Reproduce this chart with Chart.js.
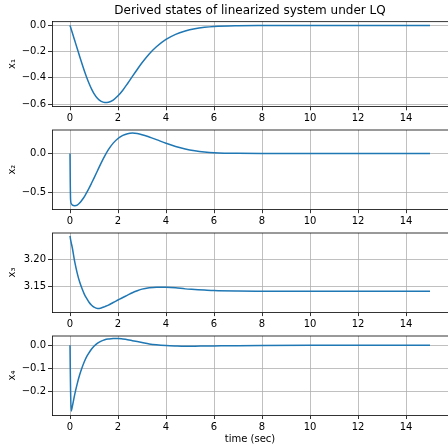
<!DOCTYPE html>
<html>
<head>
<meta charset="utf-8">
<script src="https://cdn.jsdelivr.net/npm/chart.js@4.4.1/dist/chart.umd.min.js"></script>
<style>
  body { margin: 0; background: #fff; }
  #wrap { position: relative; width: 448px; height: 445px; overflow: hidden; }
  canvas { position: absolute; left: 0; }
</style>
</head>
<body>
<div id="wrap">
  <canvas id="c1"></canvas>
  <canvas id="c2"></canvas>
  <canvas id="c3"></canvas>
  <canvas id="c4"></canvas>
</div>
<script>
// sample times (sec)
const times = [0, 0.01, 0.025, 0.05, 0.1, 0.2, 0.3, 0.4, 0.5, 0.6, 0.7, 0.8, 0.9, 1.0,
  1.15, 1.3, 1.45, 1.6, 1.8, 2.0, 2.2, 2.4, 2.6, 2.8, 3.0, 3.3, 3.6, 4.0, 4.4, 4.8,
  5.2, 5.6, 6.0, 7.0, 8.0, 10.0, 12.0, 15.0];

const x1Vals = [0, -0.006, -0.0145, -0.029, -0.058, -0.117, -0.176, -0.235, -0.293, -0.348, -0.399, -0.445, -0.486, -0.52,
  -0.558, -0.58, -0.588, -0.586, -0.569, -0.537, -0.494, -0.443, -0.389, -0.336, -0.285, -0.218, -0.163, -0.107, -0.068, -0.043,
  -0.026, -0.015, -0.008, -0.002, -0.0005, 0, 0, 0];

const x2Vals = [0, -0.35, -0.6, -0.645, -0.665, -0.672, -0.665, -0.639, -0.6, -0.555, -0.5, -0.443, -0.381, -0.317,
  -0.219, -0.121, -0.031, 0.049, 0.133, 0.193, 0.232, 0.255, 0.262, 0.256, 0.242, 0.212, 0.178, 0.131, 0.09, 0.058,
  0.035, 0.019, 0.009, 0.001, 0, 0, 0, 0];

const x3Vals = [3.2432, 3.2405, 3.2365, 3.231, 3.2205, 3.1949, 3.175, 3.159, 3.1466, 3.136, 3.128, 3.121, 3.116, 3.1125,
  3.110, 3.111, 3.1135, 3.1162, 3.121, 3.1256, 3.1302, 3.1345, 3.139, 3.1425, 3.1455, 3.148, 3.1492, 3.1491, 3.1482, 3.146,
  3.1449, 3.1438, 3.1428, 3.1419, 3.1417, 3.1416, 3.1416, 3.1416];

const x4Vals = [0, -0.09, -0.2, -0.283, -0.262, -0.21, -0.166, -0.128, -0.097, -0.07, -0.048, -0.031, -0.016, -0.004,
  0.009, 0.018, 0.024, 0.027, 0.0293, 0.0293, 0.027, 0.024, 0.02, 0.016, 0.012, 0.006, 0.002, -0.0013, -0.003, -0.004,
  -0.0038, -0.0032, -0.0027, -0.0015, -0.0008, -0.0002, 0, 0];

const xTicks = [0, 2, 4, 6, 8, 10, 12, 14];
const y1Ticks = [0, -0.2, -0.4, -0.6];
const y2Ticks = [0, -0.5];
const y3Ticks = [3.20, 3.15];
const y4Ticks = [0, -0.1, -0.2];
const yLabels = ['x\u2081', 'x\u2082', 'x\u2083', 'x\u2084'];

const FONT = 'DejaVu Sans';

// top spine like matplotlib (right one sits off the canvas)
const boxPlugin = {
  id: 'box',
  afterDraw(chart) {
    const { ctx, chartArea: a } = chart;
    ctx.save();
    ctx.strokeStyle = '#000';
    ctx.lineWidth = 0.8;
    ctx.beginPath();
    ctx.moveTo(a.left, a.top);
    ctx.lineTo(448, a.top);
    ctx.stroke();
    ctx.restore();
  }
};

function fmt(v, d) {
  return v.toFixed(d).replace('-', '\u2212');
}

function makeChart(id, opts) {
  const cv = document.getElementById(id);
  cv.width = 448;
  cv.height = opts.h;
  cv.style.top = opts.top + 'px';
  const xH = opts.xTitle ? 30 : 22;
  const padTop = opts.plotTop - opts.top - (opts.title ? 21.6 : 0);
  const padBottom = opts.h - xH - (opts.plotTop + 84.7 - opts.top);

  return new Chart(cv, {
    type: 'line',
    data: {
      datasets: [{
        data: times.map((t, i) => ({ x: t, y: opts.vals[i] })),
        borderColor: '#1f77b4',
        borderWidth: 1.5,
        pointRadius: 0,
        cubicInterpolationMode: 'monotone',
        fill: false
      }]
    },
    options: {
      responsive: false,
      animation: false,
      devicePixelRatio: 1,
      layout: { padding: { top: padTop, bottom: padBottom, left: 0, right: 0 } },
      plugins: {
        legend: { display: false },
        tooltip: { enabled: false },
        title: {
          display: !!opts.title,
          text: opts.title || '',
          fullSize: false,
          color: '#000',
          font: { family: FONT, size: 12, weight: 'normal' },
          padding: { top: 4, bottom: 3.2 }
        }
      },
      scales: {
        x: {
          type: 'linear',
          min: -0.75,
          max: 15.75,
          afterBuildTicks: s => { s.ticks = xTicks.map(v => ({ value: v })); },
          afterFit: s => { s.height = xH; },
          ticks: {
            color: '#000',
            padding: 2.5,
            maxRotation: 0,
            font: { family: FONT, size: 10 },
            callback: v => String(v)
          },
          grid: { color: '#b0b0b0', lineWidth: 0.8, tickColor: '#000', tickLength: 4 },
          border: { color: '#000', width: 0.8 },
          title: {
            display: !!opts.xTitle,
            text: opts.xTitle || '',
            color: '#000',
            font: { family: FONT, size: 10 },
            padding: { top: 0, bottom: 0 }
          }
        },
        y: {
          type: 'linear',
          min: opts.yMin,
          max: opts.yMax,
          afterBuildTicks: s => { s.ticks = opts.yTicks.map(v => ({ value: v })); },
          afterFit: s => { s.width = 52; },
          ticks: {
            color: '#000',
            padding: 2,
            font: { family: FONT, size: 10 },
            callback: v => fmt(v, opts.dec)
          },
          grid: { color: '#b0b0b0', lineWidth: 0.8, tickColor: '#000', tickLength: 4 },
          border: { color: '#000', width: 0.8 },
          title: {
            display: true,
            text: opts.yLabel,
            color: '#000',
            font: { family: FONT, size: 10 },
            padding: { top: 6, bottom: 0 }
          }
        }
      }
    },
    plugins: [boxPlugin]
  });
}

makeChart('c1', { top: 0, h: 130, plotTop: 21.6, title: 'Derived states of linearized system under LQ',
  vals: x1Vals, yMin: -0.617, yMax: 0.029, yTicks: y1Ticks, dec: 1, yLabel: yLabels[0] });
makeChart('c2', { top: 122, h: 110, plotTop: 124.5,
  vals: x2Vals, yMin: -0.718, yMax: 0.302, yTicks: y2Ticks, dec: 1, yLabel: yLabels[1] });
makeChart('c3', { top: 225, h: 110, plotTop: 227.4,
  vals: x3Vals, yMin: 3.1034, yMax: 3.2485, yTicks: y3Ticks, dec: 2, yLabel: yLabels[2] });
makeChart('c4', { top: 328, h: 117, plotTop: 330.3, xTitle: 'time (sec)',
  vals: x4Vals, yMin: -0.3, yMax: 0.04, yTicks: y4Ticks, dec: 1, yLabel: yLabels[3] });
</script>
</body>
</html>
